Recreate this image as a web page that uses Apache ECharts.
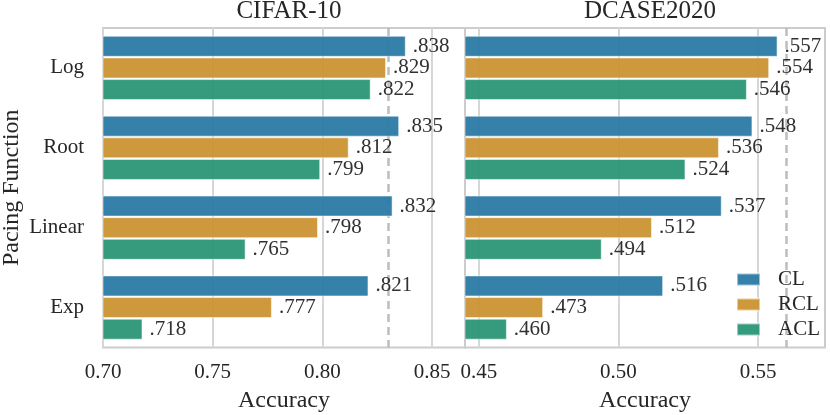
<!DOCTYPE html>
<html>
<head>
<meta charset="utf-8">
<script src="https://cdn.jsdelivr.net/npm/echarts@6/dist/echarts.min.js"></script>
<style>html,body{margin:0;padding:0;background:#fff;}#c{width:830px;height:415px;}</style>
</head>
<body>
<div id="c"></div>
<script>
const categories = ['Log', 'Root', 'Linear', 'Exp'];
const seriesNames = ['CL', 'RCL', 'ACL'];
const panelTitles = ['CIFAR-10', 'DCASE2020'];
const cifarCL  = [0.838, 0.835, 0.832, 0.821];
const cifarRCL = [0.829, 0.812, 0.798, 0.777];
const cifarACL = [0.822, 0.799, 0.765, 0.718];
const dcaseCL  = [0.557, 0.548, 0.537, 0.516];
const dcaseRCL = [0.554, 0.536, 0.512, 0.473];
const dcaseACL = [0.546, 0.524, 0.494, 0.460];
const cifarTicks = [0.70, 0.75, 0.80, 0.85];
const dcaseTicks = [0.45, 0.50, 0.55];
const baselines = [0.834, 0.555];
const xRanges = [[0.700, 0.865], [0.445, 0.574]];

const FONT = 'Liberation Serif';
const TXT = '#262626';
const colors = ['#2b7aa5', '#cb9332', '#2b9576'];
const panelData = [[cifarCL, cifarRCL, cifarACL], [dcaseCL, dcaseRCL, dcaseACL]];
const panelTicks = [cifarTicks, dcaseTicks];

const chart = echarts.init(document.getElementById('c'), null, {renderer: 'canvas'});

function tickFormatter(ticks) {
  return function (v) {
    for (const t of ticks) if (Math.abs(v - t) < 1e-6) return t.toFixed(2);
    return '';
  };
}

const grids = [
  {left: 103, right: 365, top: 28, bottom: 67.5},
  {left: 465, right: 5, top: 28, bottom: 67.5}
].map(g => Object.assign(g, {show: true, borderColor: '#cccccc', borderWidth: 2, backgroundColor: 'transparent', containLabel: false, outerBoundsMode: 'none'}));

const xAxes = [0, 1].map(i => ({
  type: 'value', gridIndex: i, min: xRanges[i][0], max: xRanges[i][1], interval: 0.005,
  name: 'Accuracy', nameLocation: 'middle', nameGap: 41,
  nameTextStyle: {fontFamily: FONT, fontSize: 24, color: TXT},
  axisLine: {show: false}, axisTick: {show: false}, splitLine: {show: false},
  axisLabel: {fontFamily: FONT, fontSize: 21, color: TXT, margin: 14, formatter: tickFormatter(panelTicks[i])}
}));

const yAxes = [0, 1].map(i => ({
  type: 'category', gridIndex: i, data: categories, inverse: true,
  name: i === 0 ? 'Pacing Function' : '', nameLocation: 'middle', nameGap: 79,
  nameTextStyle: {fontFamily: FONT, fontSize: 24, color: TXT},
  axisLine: {show: false}, axisTick: {show: false}, splitLine: {show: false},
  axisLabel: {show: i === 0, fontFamily: FONT, fontSize: 21, color: TXT, margin: 19}
}));

const series = [];
[0, 1].forEach(p => {
  const lines = panelTicks[p].map(t => ({xAxis: t, lineStyle: {color: '#d6d6d6', width: 2, type: 'solid'}}));
  lines.push({xAxis: baselines[p], lineStyle: {color: '#bdbdbd', width: 2.5, type: [8, 5]}});
  series.push({
    type: 'line', xAxisIndex: p, yAxisIndex: p, data: [], silent: true,
    markLine: {silent: true, symbol: ['none', 'none'], label: {show: false}, z: 1, animation: false, data: lines}
  });
  seriesNames.forEach((name, k) => {
    series.push({
      name: name, type: 'bar', xAxisIndex: p, yAxisIndex: p, z: 2,
      data: panelData[p][k], barWidth: 21, barGap: '3%',
      itemStyle: {color: colors[k], opacity: 0.95, borderColor: 'rgba(255,255,255,0.55)', borderWidth: 1},
      label: {show: true, position: 'right', distance: 7, fontFamily: FONT, fontSize: 21, color: TXT,
        formatter: d => d.value.toFixed(3).replace(/^0/, '')}
    });
  });
});

chart.setOption({
  animation: false,
  backgroundColor: '#ffffff',
  title: [
    {text: panelTitles[0], left: 284, top: -6, textAlign: 'center', textStyle: {fontFamily: FONT, fontSize: 25, fontWeight: 'normal', color: TXT}},
    {text: panelTitles[1], left: 645, top: -6, textAlign: 'center', textStyle: {fontFamily: FONT, fontSize: 25, fontWeight: 'normal', color: TXT}}
  ],
  legend: {
    data: seriesNames, orient: 'vertical', left: 731, top: 264, itemWidth: 23, itemHeight: 12, itemGap: 4,
    icon: 'rect', textStyle: {fontFamily: FONT, fontSize: 21, color: TXT, lineHeight: 21, padding: [0, 0, 0, 13]}
  },
  grid: grids, xAxis: xAxes, yAxis: yAxes, series: series
});
</script>
</body>
</html>
